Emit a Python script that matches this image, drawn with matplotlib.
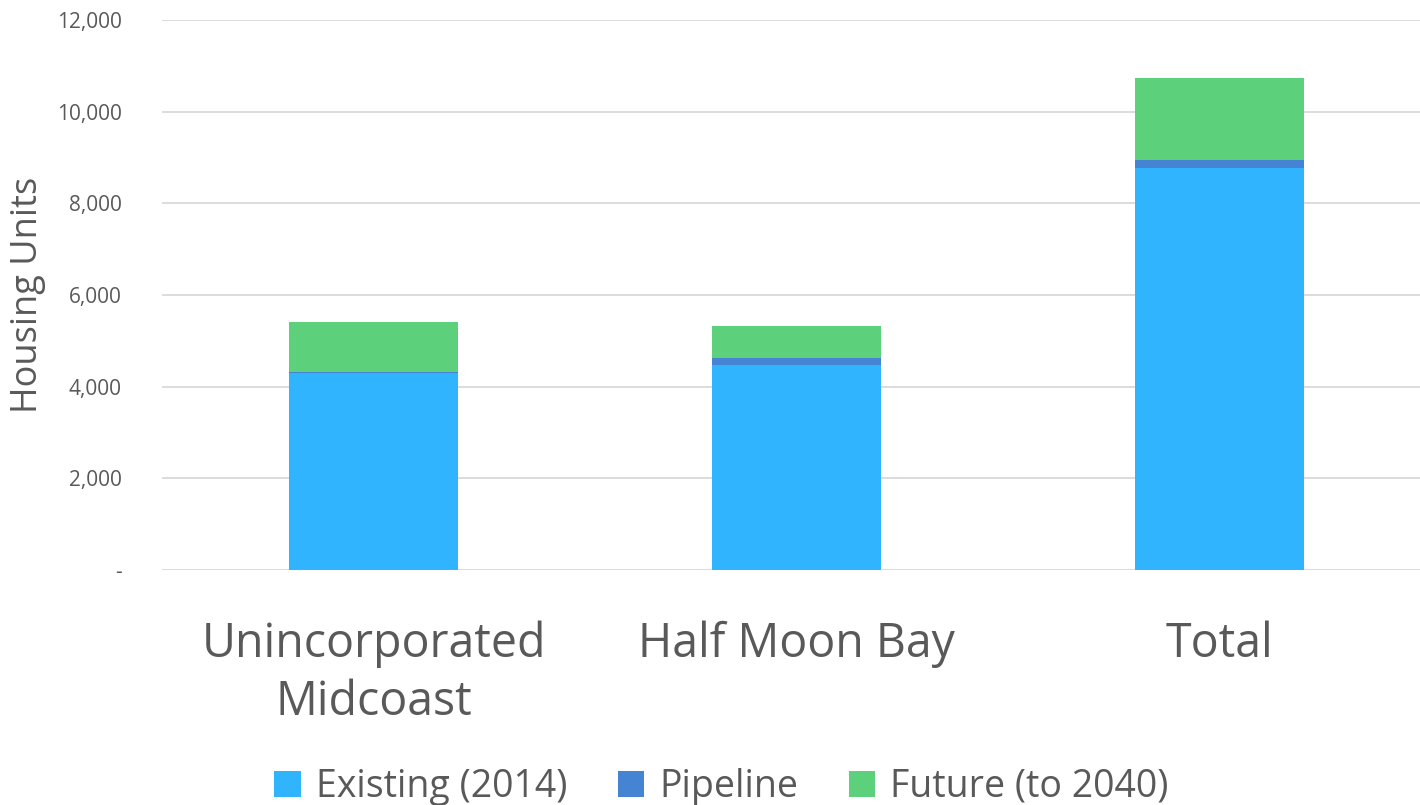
import matplotlib
matplotlib.use("Agg")
import matplotlib.pyplot as plt
import numpy as np
from matplotlib.ticker import FuncFormatter

categories = ["Unincorporated\nMidcoast", "Half Moon Bay", "Total"]
existing = [4300, 4470, 8770]
pipeline = [20, 160, 180]
future = [1090, 695, 1785]
series_names = ["Existing (2014)", "Pipeline", "Future (to 2040)"]
colors = ["#31B4FE", "#4583D3", "#5CD07A"]
text_color = "#595959"

plt.rcParams['font.family'] = ['Open Sans', 'DejaVu Sans']

fig = plt.figure(figsize=(14.2, 8.05), dpi=100)
ax = fig.add_axes([162 / 1420, 1 - 570 / 805, 1269 / 1420, 550 / 805])

x = np.arange(len(categories))
w = 0.4
b1 = ax.bar(x, existing, w, color=colors[0], label=series_names[0], zorder=3)
b2 = ax.bar(x, pipeline, w, bottom=existing, color=colors[1], label=series_names[1], zorder=3)
bottom2 = np.array(existing) + np.array(pipeline)
b3 = ax.bar(x, future, w, bottom=bottom2, color=colors[2], label=series_names[2], zorder=3)

ax.set_xlim(-0.5, 2.5)
ax.set_ylim(0, 12000)
ax.set_yticks(np.arange(0, 12001, 2000))
ax.yaxis.set_major_formatter(FuncFormatter(lambda v, p: "-" if v == 0 else f"{int(v):,}"))
ax.grid(axis='y', color='#d9d9d9', linewidth=1.3, zorder=0)
ax.set_axisbelow(True)
for s in ax.spines.values():
    s.set_visible(False)
ax.tick_params(axis='y', length=0, labelsize=15, labelcolor=text_color, pad=29)
ax.tick_params(axis='x', length=0, labelsize=33.5, labelcolor=text_color, pad=36)
ax.set_xticks(x)
ax.set_xticklabels(categories, linespacing=1.3, va='top')
ax.set_ylabel("Housing Units", fontsize=26, color=text_color, labelpad=8)

leg = fig.legend(handles=[b1, b2, b3], labels=series_names, loc='lower center',
                 bbox_to_anchor=(0.508, -0.043), ncol=3, frameon=False,
                 fontsize=27, handlelength=0.7, handleheight=0.7,
                 handletextpad=0.4, columnspacing=1.35)
for t in leg.get_texts():
    t.set_color(text_color)

fig.savefig("out.png", dpi=100)
